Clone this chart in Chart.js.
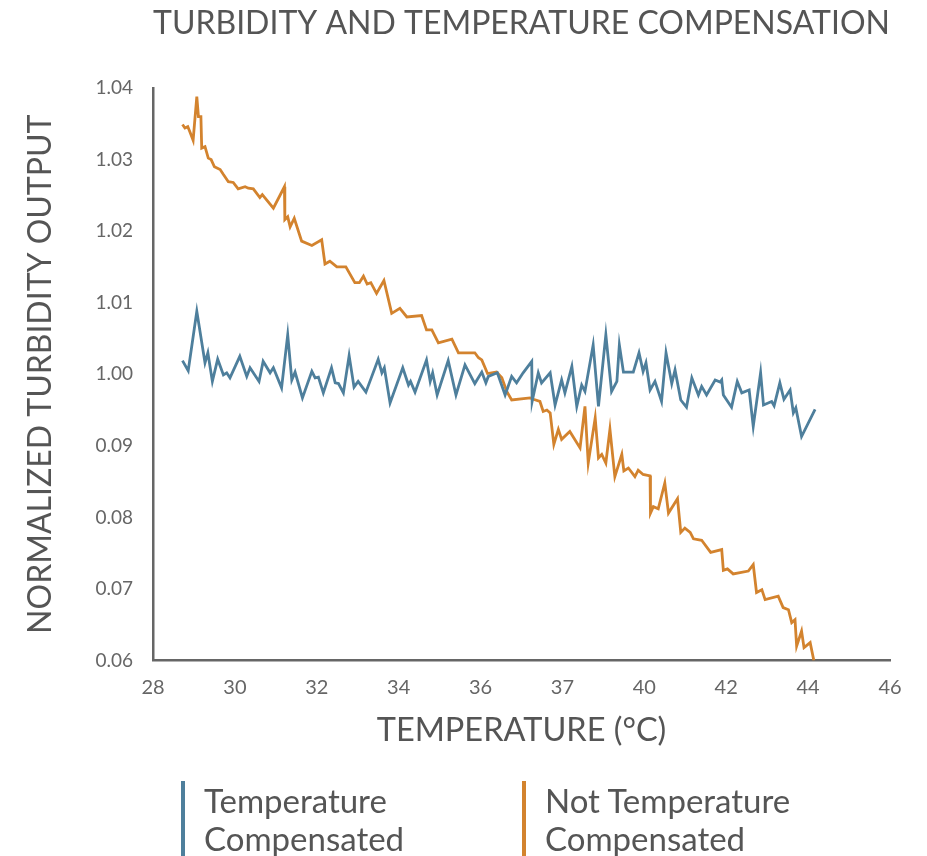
<!DOCTYPE html>
<html>
<head>
<meta charset="utf-8">
<script src="https://cdn.jsdelivr.net/npm/chart.js@4.4.1/dist/chart.umd.min.js"></script>
<style>
  html, body { margin: 0; padding: 0; background: #fff; }
  #wrap { position: relative; width: 927px; height: 856px; overflow: hidden; }
  #legend { position: absolute; left: 0; top: 781px; width: 927px; height: 80px; }
  .item { position: absolute; top: 0; border-left: 4px solid; padding-left: 19px;
          font-family: Lato, sans-serif; font-size: 33px; line-height: 38px; color: #555; }
</style>
</head>
<body>
<div id="wrap">
  <canvas id="chart" width="927" height="856"></canvas>
  <div id="legend"></div>
</div>
<script>
// Eixos
const xTicks = [28, 30, 32, 34, 36, 38, 40, 42, 44, 46];
const xTickLabels = ['28', '30', '32', '34', '36', '37', '40', '42', '44', '46'];
const yTicks = [0.96, 0.97, 0.98, 0.99, 1.00, 1.01, 1.02, 1.03, 1.04];
const yTickLabels = ['0.06', '0.07', '0.08', '0.09', '1.00', '1.01', '1.02', '1.03', '1.04'];

// Série compensada (azul)
const compTemp = [28.72, 28.86, 29.07, 29.27, 29.34, 29.45, 29.58, 29.72, 29.80, 29.88,
  30.12, 30.29, 30.37, 30.59, 30.69, 30.86, 30.94, 31.14, 31.29, 31.39,
  31.47, 31.65, 31.88, 31.96, 32.04, 32.16, 32.36, 32.45, 32.53, 32.65,
  32.79, 32.91, 33.01, 33.20, 33.50, 33.59, 33.65, 33.79, 34.10, 34.24,
  34.29, 34.40, 34.68, 34.77, 34.83, 34.94, 35.21, 35.40, 35.62, 35.86,
  36.03, 36.13, 36.19, 36.41, 36.60, 36.76, 36.88, 37.04, 37.25, 37.26,
  37.41, 37.49, 37.70, 37.82, 37.98, 38.06, 38.23, 38.35, 38.47, 38.55,
  38.75, 38.88, 39.06, 39.20, 39.33, 39.39, 39.49, 39.73, 39.87, 39.97,
  40.04, 40.14, 40.26, 40.42, 40.53, 40.67, 40.75, 40.89, 41.03, 41.16,
  41.32, 41.40, 41.52, 41.73, 41.85, 41.89, 41.93, 42.13, 42.27, 42.38,
  42.56, 42.66, 42.84, 42.91, 43.11, 43.17, 43.31, 43.41, 43.56, 43.64,
  43.70, 43.84, 44.17];
const compValue = [1.0019, 1.0005, 1.0088, 1.0016, 1.0030, 0.9990, 1.0021, 0.9999, 1.0002, 0.9995,
  1.0025, 0.9997, 1.0009, 0.9990, 1.0018, 1.0002, 1.0009, 0.9981, 1.0055, 0.9992,
  1.0003, 0.9967, 1.0004, 0.9995, 0.9996, 0.9974, 1.0009, 0.9988, 0.9987, 0.9974,
  1.0026, 0.9982, 0.9990, 0.9975, 1.0021, 1.0002, 1.0009, 0.9960, 1.0009, 0.9985,
  0.9990, 0.9975, 1.0020, 0.9990, 1.0002, 0.9971, 1.0019, 0.9971, 1.0013, 0.9987,
  1.0003, 0.9988, 0.9997, 1.0002, 0.9971, 0.9997, 0.9988, 1.0002, 1.0018, 0.9962,
  1.0002, 0.9988, 1.0002, 0.9957, 0.9992, 0.9974, 1.0011, 0.9955, 0.9985, 0.9976,
  1.0041, 0.9955, 1.0055, 0.9976, 0.9990, 1.0041, 1.0003, 1.0003, 1.0030, 1.0004,
  1.0016, 0.9978, 0.9990, 0.9962, 1.0030, 0.9987, 1.0006, 0.9964, 0.9954, 0.9995,
  0.9971, 0.9983, 0.9971, 0.9992, 0.9989, 0.9992, 0.9971, 0.9954, 0.9990, 0.9974,
  0.9978, 0.9927, 1.0002, 0.9957, 0.9962, 0.9956, 0.9988, 0.9965, 0.9978, 0.9946,
  0.9953, 0.9913, 0.9951];

// Série não compensada (laranja)
const rawTemp = [28.72, 28.78, 28.85, 28.90, 28.98, 29.07, 29.11, 29.17, 29.19, 29.27,
  29.35, 29.42, 29.50, 29.64, 29.72, 29.84, 29.96, 30.08, 30.25, 30.33,
  30.45, 30.61, 30.67, 30.94, 31.21, 31.22, 31.29, 31.35, 31.45, 31.63,
  31.88, 32.12, 32.20, 32.32, 32.49, 32.71, 32.93, 33.04, 33.14, 33.23,
  33.32, 33.46, 33.64, 33.83, 34.03, 34.20, 34.56, 34.68, 34.81, 34.97,
  35.30, 35.46, 35.86, 35.95, 36.03, 36.17, 36.39, 36.52, 36.64, 36.76,
  37.21, 37.29, 37.45, 37.53, 37.62, 37.70, 37.79, 37.90, 37.98, 38.18,
  38.43, 38.55, 38.63, 38.80, 38.88, 38.96, 39.06, 39.16, 39.28, 39.45,
  39.50, 39.61, 39.77, 39.85, 39.97, 40.14, 40.15, 40.22, 40.34, 40.50,
  40.59, 40.81, 40.89, 40.99, 41.12, 41.20, 41.40, 41.62, 41.89, 41.93,
  42.03, 42.17, 42.54, 42.66, 42.74, 42.87, 42.95, 43.27, 43.39, 43.52,
  43.60, 43.68, 43.72, 43.84, 43.90, 44.05, 44.14];
const rawValue = [1.0349, 1.0344, 1.0346, 1.0339, 1.0327, 1.0388, 1.0360, 1.0360, 1.0316, 1.0318,
  1.0302, 1.0300, 1.0290, 1.0286, 1.0279, 1.0269, 1.0268, 1.0259, 1.0262, 1.0260,
  1.0259, 1.0247, 1.0251, 1.0232, 1.0262, 1.0216, 1.0220, 1.0206, 1.0218, 1.0186,
  1.0180, 1.0188, 1.0154, 1.0158, 1.0150, 1.0150, 1.0128, 1.0128, 1.0137, 1.0126,
  1.0128, 1.0113, 1.0131, 1.0085, 1.0092, 1.0080, 1.0082, 1.0062, 1.0062, 1.0044,
  1.0049, 1.0030, 1.0030, 1.0023, 1.0020, 1.0001, 1.0003, 0.9995, 0.9976, 0.9964,
  0.9967, 0.9965, 0.9962, 0.9948, 0.9950, 0.9946, 0.9902, 0.9923, 0.9909, 0.9920,
  0.9897, 0.9955, 0.9876, 0.9939, 0.9883, 0.9888, 0.9876, 0.9923, 0.9857, 0.9888,
  0.9865, 0.9869, 0.9857, 0.9866, 0.9860, 0.9858, 0.9806, 0.9815, 0.9812, 0.9848,
  0.9806, 0.9826, 0.9779, 0.9785, 0.9779, 0.9770, 0.9768, 0.9751, 0.9755, 0.9726,
  0.9728, 0.9721, 0.9725, 0.9734, 0.9695, 0.9699, 0.9685, 0.9690, 0.9674, 0.9671,
  0.9653, 0.9657, 0.9620, 0.9641, 0.9618, 0.9625, 0.9600];

const seriesNames = [['Temperature', 'Compensated'], ['Not Temperature', 'Compensated']];
const seriesColors = ['#4e7f9c', '#d3832e'];

function zip(xs, ys) {
  return xs.map((x, i) => ({ x: x, y: ys[i] }));
}

const ctx = document.getElementById('chart').getContext('2d');
const chart = new Chart(ctx, {
  type: 'line',
  data: {
    datasets: [
      { label: seriesNames[0].join(' '), data: zip(compTemp, compValue),
        borderColor: seriesColors[0], borderWidth: 2.8, pointRadius: 0, tension: 0 },
      { label: seriesNames[1].join(' '), data: zip(rawTemp, rawValue),
        borderColor: seriesColors[1], borderWidth: 2.8, pointRadius: 0, tension: 0 }
    ]
  },
  options: {
    responsive: false,
    devicePixelRatio: 1,
    animation: false,
    layout: { padding: { left: 0, right: 37, top: 0, bottom: 102 } },
    plugins: {
      legend: { display: false },
      tooltip: { enabled: false },
      title: {
        display: true,
        fullSize: false,
        text: 'TURBIDITY AND TEMPERATURE COMPENSATION',
        color: '#555',
        font: { family: 'Lato', size: 32.5, weight: 'normal' },
        padding: { top: 4, bottom: 45 }
      }
    },
    scales: {
      x: {
        type: 'linear',
        min: 28,
        max: 46,
        afterBuildTicks: s => { s.ticks = xTicks.map(v => ({ value: v })); },
        afterFit: s => { s.height = 93.5; },
        grid: { display: false, drawTicks: false },
        border: { display: true, color: '#666', width: 2.5 },
        ticks: {
          padding: 15,
          color: '#666',
          font: { family: 'Lato', size: 20 },
          maxRotation: 0,
          callback: (v, i) => xTickLabels[i]
        },
        title: {
          display: true,
          text: 'TEMPERATURE (°C)',
          color: '#555',
          font: { family: 'Lato', size: 32.5 },
          padding: { top: 4, bottom: 4 }
        }
      },
      y: {
        min: 0.96,
        max: 1.04,
        afterBuildTicks: s => { s.ticks = yTicks.map(v => ({ value: v })); },
        afterFit: s => { s.width = 153; },
        grid: { display: false, drawTicks: false },
        border: { display: true, color: '#666', width: 2.5 },
        ticks: {
          padding: 20,
          color: '#666',
          font: { family: 'Lato', size: 19 },
          callback: (v, i) => yTickLabels[i]
        },
        title: {
          display: true,
          text: 'NORMALIZED TURBIDITY OUTPUT',
          color: '#555',
          font: { family: 'Lato', size: 32 },
          padding: { top: 21, bottom: 0 }
        }
      }
    }
  }
});

// Legenda em HTML, com barra vertical e texto em duas linhas
const legend = document.getElementById('legend');
const legendLeft = [181, 522];
chart.data.datasets.forEach((ds, i) => {
  const item = document.createElement('div');
  item.className = 'item';
  item.style.left = legendLeft[i] + 'px';
  item.style.borderColor = ds.borderColor;
  item.innerHTML = seriesNames[i].join('<br>');
  legend.appendChild(item);
});
</script>
</body>
</html>
